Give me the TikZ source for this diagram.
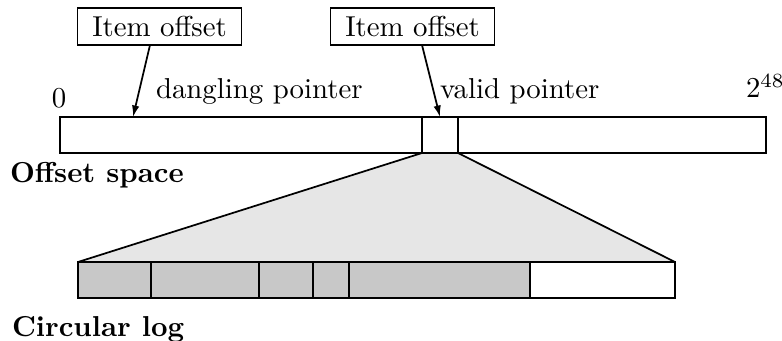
\documentclass[tikz,border=0pt]{standalone}
\usetikzlibrary{arrows.meta,backgrounds}
\definecolor{trapgray}{HTML}{E6E6E6}
\definecolor{seggray}{HTML}{C8C8C8}
\begin{document}
\begin{tikzpicture}[x=0.3472pt,y=-0.3472pt,
  every node/.style={inner sep=0pt, outer sep=0pt},
  labelbox/.style={draw, line width=0.6pt, minimum width={164*0.3472pt}, minimum height={37*0.3472pt}},
  barbox/.style={draw, line width=0.6pt, minimum height={36*0.3472pt}},
  graybox/.style={barbox, fill=seggray},
  ptr/.style={line width=0.6pt, -{Latex[length=4pt,width=2.6pt]}},
  lbl/.style={anchor=base west}
]
\useasboundingbox (0,0) rectangle (782,341);
% offset space
\node[barbox, minimum width={706*0.3472pt}] (offbar) at (413,135) {};
\node[barbox, minimum width={36*0.3472pt}] (vbox) at (440,135) {};
% item offset boxes
\node[labelbox] (box1) at (159.5,26.5) {Item offset};
\node[labelbox] (box2) at (412.5,26.5) {Item offset};
\coordinate (dangle) at (133,117);
\draw[ptr] ([xshift={-9.5*0.3472pt}]box1.south) -- (dangle);
\draw[ptr] ([xshift={9.5*0.3472pt}]box2.south) -- (vbox.north);
% labels
\node[anchor=base] (zero) at (59,108) {0};
\node[lbl] (dlabel) at (156,99) {dangling pointer};
\node[lbl] (vlabel) at (440,99) {valid pointer};
\node[lbl] (top) at (746,98) {$2^{48}$};
\node[lbl] (ospace) at (10,182) {\bfseries Offset space};
% circular log
\node[graybox, minimum width={73*0.3472pt}] (s1) at (114.5,280) {};
\node[graybox, minimum width={108*0.3472pt}] (s2) at (205,280) {};
\node[graybox, minimum width={54*0.3472pt}] (s3) at (286,280) {};
\node[graybox, minimum width={36*0.3472pt}] (s4) at (331,280) {};
\node[graybox, minimum width={181*0.3472pt}] (s5) at (439.5,280) {};
\node[barbox, fill=white, minimum width={145*0.3472pt}] (s6) at (602.5,280) {};
\node[lbl] (clog) at (12,336) {\bfseries Circular log};
% zoom trapezoid
\begin{scope}[on background layer]
\fill[trapgray] (vbox.south west) -- (vbox.south east) -- (s6.north east) -- (s1.north west) -- cycle;
\end{scope}
\draw[line width=0.6pt] (vbox.south west) -- (s1.north west);
\draw[line width=0.6pt] (vbox.south east) -- (s6.north east);
\end{tikzpicture}
\end{document}
